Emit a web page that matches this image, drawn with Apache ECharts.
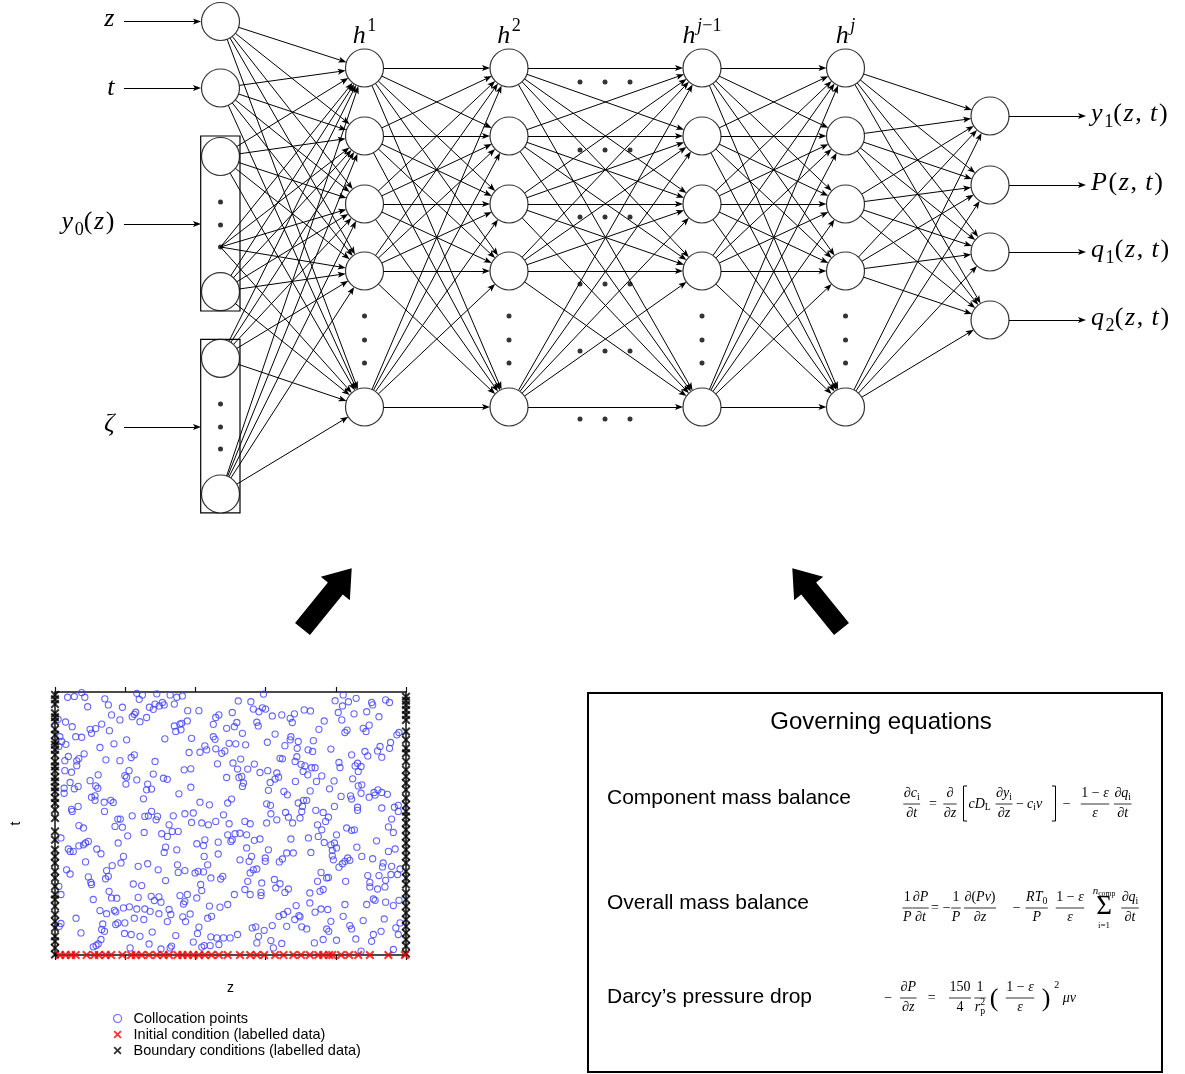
<!DOCTYPE html>
<html>
<head>
<meta charset="utf-8">
<script src="https://cdn.jsdelivr.net/npm/echarts@6/dist/echarts.min.js"></script>
<style>
  html, body { margin: 0; padding: 0; background: #fff; }
  #chart { width: 1185px; height: 1074px; }
</style>
</head>
<body>
<div id="chart"></div>
<script>
// ---------------------------------------------------------------------------
// Data
// ---------------------------------------------------------------------------

// Network labels (TeX-like: _ subscript, ^ superscript, {} groups)
const inputLabels  = ['z', 't', 'y_0(z)', 'ζ'];
const hiddenLabels = ['h^1', 'h^2', 'h^{j−1}', 'h^j'];
const outputLabels = ['y_1(z,\u2009t)', 'P(z,\u2009t)', 'q_1(z,\u2009t)', 'q_2(z,\u2009t)'];
const hiddenNodesPerLayer = 5;

// Governing equations panel
const panelTitle = 'Governing equations';
const equationNames = ['Component mass balance', 'Overall mass balance', 'Darcy\u2019s pressure drop'];

// Training points in the normalised (z, t) domain
const collocationPoints = [
  [0.036,0.980],[0.055,0.983],[0.076,0.998],[0.085,0.980],[0.093,0.944],[0.142,0.974],[0.152,0.951],[0.192,0.942],
  [0.233,0.995],[0.249,0.989],[0.240,0.972],[0.290,0.993],[0.328,0.989],[0.347,0.980],[0.363,0.985],[0.269,0.942],
  [0.280,0.934],[0.285,0.954],[0.297,0.947],[0.306,0.960],[0.311,0.951],[0.340,0.954],[0.378,0.929],[0.410,0.929],
  [0.467,0.913],[0.458,0.903],[0.161,0.913],[0.185,0.894],[0.220,0.906],[0.226,0.915],[0.230,0.923],[0.242,0.887],
  [0.261,0.903],[0.009,0.896],[0.030,0.886],[0.049,0.868],[0.100,0.858],[0.116,0.861],[0.104,0.843],[0.133,0.878],
  [0.155,0.853],[0.340,0.871],[0.356,0.878],[0.361,0.881],[0.344,0.850],[0.359,0.856],[0.377,0.890],[0.451,0.877],
  [0.014,0.830],[0.019,0.812],[0.011,0.793],[0.031,0.801],[0.059,0.830],[0.076,0.828],[0.204,0.818],[0.168,0.803],
  [0.313,0.822],[0.389,0.824],[0.451,0.830],[0.456,0.820],[0.128,0.789],[0.038,0.755],[0.028,0.739],[0.062,0.738],
  [0.068,0.747],[0.083,0.765],[0.145,0.742],[0.185,0.739],[0.217,0.751],[0.226,0.761],[0.285,0.736],[0.382,0.770],
  [0.413,0.771],[0.432,0.780],[0.427,0.795],[0.458,0.784],[0.475,0.767],[0.463,0.727],[0.028,0.701],[0.047,0.695],
  [0.062,0.720],[0.211,0.701],[0.199,0.682],[0.204,0.676],[0.233,0.666],[0.280,0.688],[0.123,0.685],[0.309,0.672],
  [0.320,0.668],[0.368,0.704],[0.387,0.708],[0.043,0.656],[0.026,0.634],[0.026,0.615],[0.055,0.632],[0.066,0.641],
  [0.100,0.663],[0.116,0.643],[0.122,0.634],[0.202,0.650],[0.264,0.650],[0.261,0.628],[0.275,0.631],[0.387,0.638],
  [0.353,0.613],[0.104,0.600],[0.114,0.605],[0.114,0.588],[0.252,0.594],[0.140,0.581],[0.159,0.588],[0.166,0.580],
  [0.413,0.581],[0.440,0.571],[0.066,0.565],[0.047,0.554],
  [0.594,0.992],[0.522,0.966],[0.558,0.963],[0.565,0.935],[0.581,0.925],[0.591,0.940],[0.600,0.935],[0.505,0.922],
  [0.619,0.909],[0.646,0.913],[0.670,0.900],[0.682,0.917],[0.676,0.884],[0.710,0.932],[0.728,0.928],[0.798,0.967],
  [0.821,0.989],[0.819,0.947],[0.836,0.963],[0.858,0.976],[0.902,0.960],[0.905,0.951],[0.942,0.970],[0.953,0.960],
  [0.807,0.922],[0.817,0.894],[0.852,0.917],[0.888,0.925],[0.923,0.906],[0.489,0.862],[0.511,0.868],[0.518,0.884],
  [0.534,0.843],[0.575,0.885],[0.579,0.871],[0.627,0.840],[0.672,0.830],[0.670,0.818],[0.693,0.812],[0.752,0.858],
  [0.767,0.890],[0.826,0.846],[0.832,0.855],[0.878,0.862],[0.895,0.874],[0.886,0.850],[0.974,0.837],[0.980,0.846],
  [0.496,0.805],[0.515,0.803],[0.543,0.799],[0.605,0.809],[0.655,0.796],[0.690,0.786],[0.721,0.780],[0.736,0.815],
  [0.734,0.774],[0.786,0.783],[0.926,0.793],[0.919,0.776],[0.953,0.786],[0.956,0.808],[0.845,0.761],[0.883,0.774],
  [0.891,0.757],[0.931,0.752],[0.484,0.776],[0.641,0.748],[0.648,0.746],[0.689,0.754],[0.684,0.736],[0.701,0.725],
  [0.712,0.719],[0.731,0.712],[0.741,0.712],[0.707,0.698],[0.720,0.685],[0.507,0.730],[0.529,0.745],[0.520,0.707],
  [0.549,0.707],[0.568,0.726],[0.584,0.694],[0.606,0.701],[0.809,0.732],[0.812,0.713],[0.855,0.719],[0.862,0.729],
  [0.872,0.717],[0.864,0.698],[0.632,0.692],[0.627,0.669],[0.613,0.656],[0.637,0.676],[0.524,0.675],[0.532,0.679],
  [0.537,0.654],[0.534,0.641],[0.489,0.675],[0.685,0.660],[0.745,0.660],[0.760,0.681],[0.795,0.662],[0.782,0.632],
  [0.727,0.624],[0.848,0.670],[0.864,0.643],[0.874,0.647],[0.608,0.626],[0.652,0.622],[0.662,0.609],[0.872,0.615],
  [0.895,0.600],[0.909,0.618],[0.912,0.608],[0.920,0.628],[0.931,0.618],[0.947,0.611],[0.815,0.603],[0.842,0.605],
  [0.845,0.593],[0.503,0.593],[0.492,0.578],[0.603,0.575],[0.614,0.569],[0.693,0.578],[0.708,0.588],[0.717,0.588],
  [0.705,0.565],[0.796,0.565],[0.862,0.562],[0.931,0.559],[0.967,0.562],[0.978,0.569],
  [0.049,0.546],[0.141,0.546],[0.220,0.529],[0.256,0.527],[0.266,0.529],[0.275,0.546],[0.292,0.527],[0.288,0.514],
  [0.337,0.529],[0.370,0.537],[0.394,0.540],[0.389,0.504],[0.418,0.502],[0.437,0.495],[0.480,0.533],[0.458,0.508],
  [0.068,0.492],[0.081,0.483],[0.171,0.489],[0.179,0.517],[0.186,0.517],[0.192,0.486],[0.325,0.495],[0.334,0.470],
  [0.351,0.470],[0.304,0.461],[0.320,0.451],[0.254,0.466],[0.207,0.453],[0.017,0.445],[0.068,0.415],[0.081,0.419],
  [0.087,0.426],[0.095,0.432],[0.119,0.403],[0.131,0.385],[0.038,0.403],[0.043,0.394],[0.052,0.394],[0.180,0.426],
  [0.404,0.423],[0.423,0.416],[0.427,0.438],[0.465,0.429],[0.315,0.410],[0.311,0.390],[0.347,0.400],[0.087,0.354],
  [0.195,0.375],[0.188,0.350],[0.425,0.375],[0.465,0.384],[0.033,0.324],[0.043,0.308],[0.095,0.297],[0.102,0.276],
  [0.104,0.268],[0.147,0.321],[0.152,0.299],[0.144,0.290],[0.163,0.340],[0.237,0.337],[0.264,0.347],[0.294,0.324],
  [0.315,0.283],[0.349,0.343],[0.351,0.314],[0.370,0.321],[0.399,0.312],[0.408,0.318],[0.423,0.316],[0.444,0.293],
  [0.472,0.289],[0.478,0.299],[0.435,0.343],[0.011,0.261],[0.017,0.230],[0.109,0.211],[0.154,0.242],[0.161,0.217],
  [0.176,0.216],[0.223,0.270],[0.247,0.264],[0.237,0.219],[0.274,0.223],[0.283,0.207],[0.296,0.221],[0.302,0.201],
  [0.356,0.226],[0.366,0.194],[0.370,0.203],[0.377,0.230],[0.404,0.217],[0.415,0.268],[0.418,0.245],[0.440,0.186],
  [0.470,0.182],[0.128,0.169],[0.147,0.157],[0.169,0.170],[0.173,0.164],[0.195,0.179],[0.212,0.183],[0.233,0.175],
  [0.256,0.175],[0.271,0.166],[0.296,0.157],[0.325,0.173],[0.330,0.154],[0.226,0.140],[0.253,0.135],[0.364,0.145],
  [0.372,0.127],[0.385,0.156],[0.435,0.140],[0.446,0.147],[0.060,0.140],[0.017,0.120],[0.012,0.109],[0.136,0.118],
  [0.133,0.097],[0.141,0.090],[0.179,0.122],[0.173,0.116],[0.199,0.122],[0.277,0.087],[0.320,0.127],[0.410,0.106],
  [0.074,0.084],[0.198,0.082],[0.217,0.078],[0.242,0.071],[0.344,0.074],[0.394,0.049],[0.406,0.082],[0.444,0.069],
  [0.461,0.065],[0.480,0.065],[0.109,0.031],[0.117,0.036],[0.123,0.042],[0.131,0.059],[0.214,0.027],[0.268,0.042],
  [0.302,0.023],[0.328,0.027],[0.332,0.034],[0.418,0.030],[0.425,0.036],[0.442,0.036],[0.467,0.040],
  [0.496,0.499],[0.541,0.508],[0.556,0.499],[0.615,0.537],[0.632,0.514],[0.657,0.542],[0.665,0.524],[0.677,0.502],
  [0.698,0.521],[0.703,0.546],[0.743,0.550],[0.764,0.542],[0.779,0.524],[0.771,0.508],[0.760,0.476],[0.748,0.495],
  [0.802,0.457],[0.831,0.483],[0.845,0.474],[0.853,0.476],[0.862,0.550],[0.950,0.487],[0.964,0.466],[0.959,0.517],
  [0.978,0.546],[0.492,0.457],[0.505,0.438],[0.501,0.432],[0.513,0.461],[0.527,0.463],[0.546,0.457],[0.568,0.436],
  [0.584,0.441],[0.603,0.502],[0.672,0.441],[0.722,0.445],[0.750,0.451],[0.767,0.428],[0.786,0.419],[0.796,0.426],
  [0.802,0.407],[0.790,0.398],[0.916,0.434],[0.969,0.403],[0.860,0.410],[0.546,0.407],[0.560,0.375],[0.553,0.356],
  [0.527,0.362],[0.599,0.369],[0.599,0.356],[0.608,0.400],[0.639,0.354],[0.648,0.365],[0.660,0.388],[0.679,0.388],
  [0.729,0.390],[0.790,0.377],[0.793,0.362],[0.809,0.334],[0.819,0.347],[0.826,0.356],[0.834,0.369],[0.840,0.360],
  [0.874,0.375],[0.905,0.366],[0.935,0.350],[0.933,0.335],[0.959,0.337],[0.950,0.394],[0.983,0.327],[0.575,0.327],
  [0.556,0.312],[0.565,0.324],[0.589,0.274],[0.549,0.280],[0.625,0.287],[0.641,0.271],[0.629,0.255],[0.655,0.238],
  [0.665,0.251],[0.758,0.314],[0.748,0.280],[0.774,0.293],[0.779,0.295],[0.764,0.249],[0.755,0.242],[0.828,0.280],
  [0.891,0.302],[0.897,0.276],[0.897,0.259],[0.923,0.302],[0.942,0.284],[0.940,0.259],[0.919,0.251],[0.957,0.306],
  [0.976,0.306],[0.541,0.249],[0.556,0.230],[0.587,0.226],[0.587,0.238],[0.511,0.230],[0.726,0.236],[0.492,0.192],
  [0.726,0.198],[0.741,0.163],[0.758,0.175],[0.777,0.173],[0.687,0.188],[0.826,0.192],[0.888,0.192],[0.907,0.213],
  [0.912,0.208],[0.942,0.201],[0.964,0.188],[0.980,0.208],[0.638,0.147],[0.651,0.154],[0.663,0.166],[0.683,0.135],
  [0.695,0.150],[0.698,0.145],[0.660,0.109],[0.703,0.107],[0.717,0.099],[0.786,0.128],[0.821,0.147],[0.878,0.131],
  [0.938,0.137],[0.983,0.122],[0.971,0.103],[0.562,0.103],[0.572,0.107],[0.596,0.094],[0.619,0.112],[0.580,0.071],
  [0.499,0.065],[0.520,0.078],[0.774,0.099],[0.780,0.090],[0.840,0.112],[0.845,0.099],[0.929,0.090],[0.907,0.078],
  [0.978,0.078],[0.575,0.046],[0.615,0.055],[0.646,0.044],[0.622,0.027],[0.739,0.046],[0.764,0.059],[0.802,0.056],
  [0.857,0.061],[0.902,0.052],[0.872,0.015],[0.964,0.021]
];

// Initial condition samples (t = 0): z positions
const initialZ = [
  0.014,0.030,0.046,0.059,0.090,0.112,0.125,0.144,0.160,0.192,0.217,0.230,0.247,0.268,0.290,0.309,
  0.325,0.349,0.363,0.378,0.394,0.410,0.427,0.446,0.467,0.492,0.527,0.556,0.575,0.596,0.627,0.651,
  0.679,0.701,0.726,0.750,0.764,0.781,0.790,0.815,0.838,0.864,0.897,0.950,0.997
];
// Boundary samples: t positions at z = 0 and z = 1
const boundaryLeftT = [
  0.989,0.972,0.954,0.919,0.904,0.888,0.858,0.837,0.812,0.799,0.780,0.761,0.736,0.717,0.701,0.676,
  0.660,0.638,0.622,0.597,0.578,0.552,0.521,0.470,0.438,0.400,0.375,0.350,0.318,0.293,0.261,0.230,
  0.211,0.185,0.154,0.128,0.103,0.071,0.052,0.027,0.002
];
const boundaryRightT = [
  0.982,0.967,0.951,0.932,0.913,0.894,0.850,0.818,0.786,0.767,0.736,0.704,0.679,0.654,0.628,0.597,
  0.571,0.546,0.527,0.502,0.476,0.451,0.426,0.400,0.375,0.350,0.318,0.293,0.268,0.236,0.211,0.185,
  0.160,0.135,0.109,0.084,0.059,0.034,0.006
];
const legendNames = ['Collocation points', 'Initial condition (labelled data)', 'Boundary conditions (labelled data)'];

// ---------------------------------------------------------------------------
// Layout and styles
// ---------------------------------------------------------------------------
const SANS = '"Liberation Sans", Arial, Helvetica, sans-serif';
const MATH = '"Liberation Serif", "DejaVu Serif", serif';
const W = 1185, H = 1074;

const NODE_R = 19;
const IN_X = 220.5;
const inputNodeY = { z: 21.5, t: 88, y0: [156.5, 291.7], zeta: [358.3, 494] };
const y0DotY = [202, 225, 247];
const zetaDotY = [404, 427, 449];
const layerX = [364.5, 509, 702, 845.5];
const hiddenRowY = [68, 136, 204, 271, 407];
const hiddenGapDotY = [316, 340, 363];
const midDotX = [580, 605, 630];
const midDotY = [82, 150, 217, 284, 351, 419];
const OUT_X = 990;
const outRowY = [116, 185, 252, 320];

const ARROW = 'path://M-4,0M4,0M0,0L3,8L0,6.2L-3,8Z';
const ARROW_SIZE = 8;
const XMARK = 'path://M0,1.6L1.6,0L5,3.4L8.4,0L10,1.6L6.6,5L10,8.4L8.4,10L5,6.6L1.6,10L0,8.4L3.4,5Z';
const BLUE = '#3f3fff';

// ---------------------------------------------------------------------------
// Small math typesetting helpers (graphic text pieces)
// ---------------------------------------------------------------------------
const mctx = document.createElement('canvas').getContext('2d');
function textWidth(s, size, italic) {
  mctx.font = (italic ? 'italic ' : '') + size + 'px ' + MATH;
  return mctx.measureText(s).width;
}
function parseMath(src) {
  const groups = [];
  let i = 0;
  while (i < src.length) {
    const ch = src[i];
    if (ch === '_' || ch === '^') {
      i++;
      let g;
      if (src[i] === '{') { const j = src.indexOf('}', i); g = src.slice(i + 1, j); i = j + 1; }
      else { g = src[i]; i++; }
      groups.push({ text: g, mode: ch === '_' ? 'sub' : 'sup' });
    } else {
      groups.push({ text: ch, mode: 'base' });
      i++;
    }
  }
  return groups;
}
const LETTER = /[A-Za-z\u0370-\u03FF\u2202]/;
function mathRow(src, size, opt) {
  opt = opt || {};
  const pieces = [];
  let w = 0, subStart = null, subEnd = 0;
  for (const g of parseMath(src)) {
    const small = g.mode !== 'base';
    const fs = small ? size * 0.7 : size;
    const dy = g.mode === 'sub' ? size * 0.28 : g.mode === 'sup' ? -size * 0.36 : 0;
    let x = (g.mode === 'sup' && subStart !== null) ? subStart : w;
    const start = x;
    for (const ch of g.text) {
      const it = !opt.upright && g.mode !== 'sub' && LETTER.test(ch);
      pieces.push({ t: ch, fs, it, dx: x, dy });
      x += textWidth(ch, fs, it) + (g.mode === 'base' ? (opt.track || 0) : 0);
    }
    if (g.mode === 'sub') { subStart = start; subEnd = x; w = x; }
    else if (g.mode === 'sup' && subStart !== null) { w = Math.max(subEnd, x); subStart = null; }
    else { w = x; subStart = null; }
  }
  return { pieces, w };
}
function textEl(x, y, text, size, family, italic, align) {
  const font = (italic ? 'italic ' : '') + size + 'px ' + family;
  return {
    type: 'text', x, y, silent: true,
    style: {
      text, font, fontSize: size, fontFamily: family, fontStyle: italic ? 'italic' : 'normal',
      fill: '#000', align: align || 'left', textAlign: align || 'left',
      verticalAlign: 'middle', textVerticalAlign: 'middle'
    }
  };
}
function placeMath(row, x, y, align) {
  const x0 = align === 'center' ? x - row.w / 2 : align === 'right' ? x - row.w : x;
  return row.pieces.map(p => textEl(x0 + p.dx, y + p.dy, p.t, p.fs, MATH, p.it, 'left'));
}
function math(x, y, src, size, align, opt) {
  return placeMath(mathRow(src, size, opt), x, y, align);
}
function frac(cx, y, num, den, size) {
  const n = mathRow(num, size), d = mathRow(den, size);
  const w = Math.max(n.w, d.w) + 1;
  return [
    ...placeMath(n, cx, y - size * 0.76, 'center'),
    ...placeMath(d, cx, y + size * 0.68, 'center'),
    { type: 'line', silent: true, shape: { x1: cx - w / 2, y1: y, x2: cx + w / 2, y2: y },
      style: { stroke: '#000', lineWidth: 0.8 } }
  ];
}
function bracket(x, y1, y2, dir) {
  return { type: 'polyline', silent: true,
    shape: { points: [[x + 3.6 * dir, y1], [x, y1], [x, y2], [x + 3.6 * dir, y2]] },
    style: { stroke: '#000', lineWidth: 1, fill: null } };
}

// ---------------------------------------------------------------------------
// Network geometry
// ---------------------------------------------------------------------------
function edge(a, b, ra, rb) {
  const dx = b[0] - a[0], dy = b[1] - a[1], L = Math.hypot(dx, dy);
  const ux = dx / L, uy = dy / L, back = rb + ARROW_SIZE / 2;
  return { coords: [[a[0] + ux * ra, a[1] + uy * ra], [b[0] - ux * back, b[1] - uy * back]] };
}

const inputSources = [
  { p: [IN_X, inputNodeY.z], r: NODE_R },
  { p: [IN_X, inputNodeY.t], r: NODE_R },
  { p: [IN_X, inputNodeY.y0[0]], r: NODE_R },
  { p: [IN_X, y0DotY[2]], r: 0 },
  { p: [IN_X, inputNodeY.y0[1]], r: NODE_R },
  { p: [IN_X, inputNodeY.zeta[0]], r: NODE_R },
  { p: [IN_X, inputNodeY.zeta[1]], r: NODE_R }
];
const hiddenNodes = layerX.map(x => hiddenRowY.slice(0, hiddenNodesPerLayer).map(y => [x, y]));
const outputNodes = outRowY.map(y => [OUT_X, y]);

const edges = [];
inputSources.forEach(s => hiddenNodes[0].forEach(h => edges.push(edge(s.p, h, s.r, NODE_R))));
for (let l = 0; l < hiddenNodes.length - 1; l++) {
  hiddenNodes[l].forEach(a => hiddenNodes[l + 1].forEach(b => edges.push(edge(a, b, NODE_R, NODE_R))));
}
hiddenNodes[hiddenNodes.length - 1].forEach(a => outputNodes.forEach(b => edges.push(edge(a, b, NODE_R, NODE_R))));

// label arrows into the inputs and out of the outputs
const inArrowY = [inputNodeY.z, inputNodeY.t, 224, 427];
inArrowY.forEach(y => edges.push({ coords: [[124, y], [201 - ARROW_SIZE / 2, y]] }));
outputNodes.forEach(p => edges.push({ coords: [[p[0] + NODE_R, p[1]], [1086 - ARROW_SIZE / 2, p[1]]] }));

const nodePoints = [
  [IN_X, inputNodeY.z], [IN_X, inputNodeY.t],
  [IN_X, inputNodeY.y0[0]], [IN_X, inputNodeY.y0[1]],
  [IN_X, inputNodeY.zeta[0]], [IN_X, inputNodeY.zeta[1]],
  ...hiddenNodes.flat(), ...outputNodes
];
const dotPoints = [
  ...y0DotY.map(y => [IN_X, y]), ...zetaDotY.map(y => [IN_X, y]),
  ...layerX.flatMap(x => hiddenGapDotY.map(y => [x, y])),
  ...midDotX.flatMap(x => midDotY.map(y => [x, y]))
];

// ---------------------------------------------------------------------------
// Graphic overlay: labels, boxes, big arrows, equations panel
// ---------------------------------------------------------------------------
function bigArrow(tail, tip) {
  const dx = tip[0] - tail[0], dy = tip[1] - tail[1], L = Math.hypot(dx, dy);
  const ux = dx / L, uy = dy / L, nx = -uy, ny = ux;
  const sw = 9.6, hw = 18.7, hl = 26;
  const nk = [tip[0] - ux * hl, tip[1] - uy * hl];
  const P = (p, s) => [p[0] + nx * s, p[1] + ny * s];
  return { type: 'polygon', silent: true,
    shape: { points: [P(tail, sw), P(nk, sw), P(nk, hw), tip, P(nk, -hw), P(nk, -sw), P(tail, -sw)] },
    style: { fill: '#000' } };
}

const LBL = 26, TRACK = { track: 1.6 };
const g = [];
// input labels
const inLabelY = [19.5, 87.8, 222.5, 424.5];
inputLabels.forEach((s, k) => g.push(...math(116, inLabelY[k], s, LBL, 'right', TRACK)));
// hidden layer labels
hiddenLabels.forEach((s, k) => g.push(...math(layerX[k], 36, s, LBL, 'center', TRACK)));
// output labels
outputLabels.forEach((s, k) => g.push(...math(1091, outRowY[k] - 1.5, s, LBL, 'left', TRACK)));
// input group boxes
g.push({ type: 'rect', silent: true, shape: { x: 200.7, y: 136, width: 39.3, height: 175 },
  style: { fill: null, stroke: '#000', lineWidth: 1.2 } });
g.push({ type: 'rect', silent: true, shape: { x: 200.7, y: 339.3, width: 39.3, height: 173.5 },
  style: { fill: null, stroke: '#000', lineWidth: 1.2 } });
// big arrows
g.push(bigArrow([302.5, 629], [351.7, 568.3]));
g.push(bigArrow([841.5, 629], [792.3, 568.3]));
// equations panel
g.push({ type: 'rect', silent: true, shape: { x: 588, y: 693, width: 574, height: 379 },
  style: { fill: null, stroke: '#000', lineWidth: 2 } });
g.push(textEl(881, 722, panelTitle, 24, SANS, false, 'center'));
const eqNameY = [798, 903, 997];
equationNames.forEach((s, k) => g.push(textEl(607, eqNameY[k], s, 21, SANS, false, 'left')));

const ES = 14;
// component mass balance
let Y = 804;
g.push(...frac(911.7, Y, '∂c_i', '∂t', ES));
g.push(...math(933, Y, '=', ES, 'center'));
g.push(...frac(950, Y, '∂', '∂z', ES));
g.push(bracket(963.5, 786, 821, 1));
g.push(...math(968.5, Y, 'cD_L', ES, 'left'));
g.push(...frac(1004, Y, '∂y_i', '∂z', ES));
g.push(...math(1020, Y, '−', ES, 'center'));
g.push(...math(1027, Y, 'c_iv', ES, 'left'));
g.push(bracket(1055.5, 786, 821, -1));
g.push(...math(1066.7, Y, '−', ES, 'center'));
g.push(...frac(1095, Y, '1 − ε', 'ε', ES));
g.push(...frac(1122.7, Y, '∂q_i', '∂t', ES));
// overall mass balance
Y = 908;
g.push(...frac(907.2, Y, '1', 'P', ES));
g.push(...frac(920.5, Y, '∂P', '∂t', ES));
g.push(...math(935, Y, '=', ES, 'center'));
g.push(...math(946.7, Y, '−', ES, 'center'));
g.push(...frac(956, Y, '1', 'P', ES));
g.push(...frac(980, Y, '∂(Pv)', '∂z', ES));
g.push(...math(1016.7, Y, '−', ES, 'center'));
g.push(...frac(1036.7, Y, 'RT_0', 'P', ES));
g.push(...frac(1070, Y, '1 − ε', 'ε', ES));
g.push(textEl(1104, 907, 'Σ', 27, MATH, false, 'center'));
g.push(...math(1104, 891, 'n_{comp}', 11, 'center'));
g.push(...math(1104, 925.5, 'i=1', 9, 'center', { upright: true }));
g.push(...frac(1130, Y, '∂q_i', '∂t', ES));
// Darcy pressure drop
Y = 998;
g.push(...math(888.3, Y, '−', ES, 'center'));
g.push(...frac(908.3, Y, '∂P', '∂z', ES));
g.push(...math(931.7, Y, '=', ES, 'center'));
g.push(...frac(960, Y, '150', '4', ES));
g.push(...frac(980, Y, '1', 'r_p^2', ES));
g.push(textEl(994, 999, '(', 26, MATH, false, 'center'));
g.push(...frac(1020, Y, '1 − ε', 'ε', ES));
g.push(textEl(1046, 999, ')', 26, MATH, false, 'center'));
g.push(...math(1056.7, 985, '2', 10, 'center'));
g.push(...math(1069.3, Y, 'μv', ES, 'center'));

// ---------------------------------------------------------------------------
// Chart
// ---------------------------------------------------------------------------
const frameAxis = {
  gridIndex: 1, type: 'value', min: 0, max: 1, interval: 0.2,
  axisLine: { onZero: false, lineStyle: { color: '#111', width: 1.5 } },
  axisTick: { inside: false, length: 5, lineStyle: { color: '#111', width: 1.2 } },
  axisLabel: { show: false }, splitLine: { show: false }
};
const chart = echarts.init(document.getElementById('chart'), null, { renderer: 'canvas' });
chart.setOption({
  animation: false,
  backgroundColor: '#fff',
  grid: [
    { left: 0, top: 0, width: W, height: H },
    { left: 55, top: 692, width: 351, height: 263 }
  ],
  xAxis: [
    { gridIndex: 0, type: 'value', min: 0, max: W, show: false },
    Object.assign({}, frameAxis, { position: 'bottom', name: 'z', nameLocation: 'middle', nameGap: 26,
      nameTextStyle: { fontFamily: SANS, fontSize: 14, color: '#000' } }),
    Object.assign({}, frameAxis, { position: 'top' })
  ],
  yAxis: [
    { gridIndex: 0, type: 'value', min: 0, max: H, inverse: true, show: false },
    Object.assign({}, frameAxis, { position: 'left', name: 't', nameLocation: 'middle', nameGap: 32, nameRotate: 90,
      nameTextStyle: { fontFamily: SANS, fontSize: 14, color: '#000' }, axisTick: { show: false } }),
    Object.assign({}, frameAxis, { position: 'right', axisTick: { show: false } })
  ],
  legend: {
    orient: 'vertical', left: 108, top: 1006, itemWidth: 8, itemHeight: 8, itemGap: 1,
    selectedMode: false,
    textStyle: { fontFamily: SANS, fontSize: 14.5, color: '#000', lineHeight: 14, padding: [0, 0, 0, 7] },
    data: [
      { name: legendNames[0], icon: 'circle', itemStyle: { color: '#fff', borderColor: BLUE, borderWidth: 1.1 } },
      { name: legendNames[1], icon: XMARK },
      { name: legendNames[2], icon: XMARK }
    ]
  },
  series: [
    {
      type: 'lines', coordinateSystem: 'cartesian2d', xAxisIndex: 0, yAxisIndex: 0,
      data: edges, silent: true, z: 2,
      symbol: ['none', ARROW], symbolSize: ARROW_SIZE,
      lineStyle: { color: '#000', width: 1, opacity: 1, curveness: 0 }
    },
    {
      type: 'scatter', xAxisIndex: 0, yAxisIndex: 0, data: nodePoints, silent: true, z: 3,
      symbol: 'circle', symbolSize: NODE_R * 2,
      itemStyle: { color: '#fff', borderColor: '#000', borderWidth: 1.2 }
    },
    {
      type: 'scatter', xAxisIndex: 0, yAxisIndex: 0, data: dotPoints, silent: true, z: 4,
      symbol: 'circle', symbolSize: 5, itemStyle: { color: '#000' }
    },
    {
      name: legendNames[0], type: 'scatter', xAxisIndex: 1, yAxisIndex: 1, data: collocationPoints,
      symbol: 'circle', symbolSize: 6.2, clip: false, silent: true, z: 5,
      itemStyle: { color: 'rgba(255,255,255,0)', borderColor: BLUE, borderWidth: 1.1 }
    },
    {
      name: legendNames[2], type: 'scatter', xAxisIndex: 1, yAxisIndex: 1,
      data: [...boundaryLeftT.map(t => [0, t]), ...boundaryRightT.map(t => [1, t])],
      symbol: XMARK, symbolSize: 9, clip: false, silent: true, z: 6,
      itemStyle: { color: '#000' }
    },
    {
      name: legendNames[1], type: 'scatter', xAxisIndex: 1, yAxisIndex: 1,
      data: initialZ.map(z => [z, 0]),
      symbol: XMARK, symbolSize: 9, clip: false, silent: true, z: 7,
      itemStyle: { color: '#ff0000' }
    }
  ],
  graphic: { elements: g }
});
</script>
</body>
</html>
